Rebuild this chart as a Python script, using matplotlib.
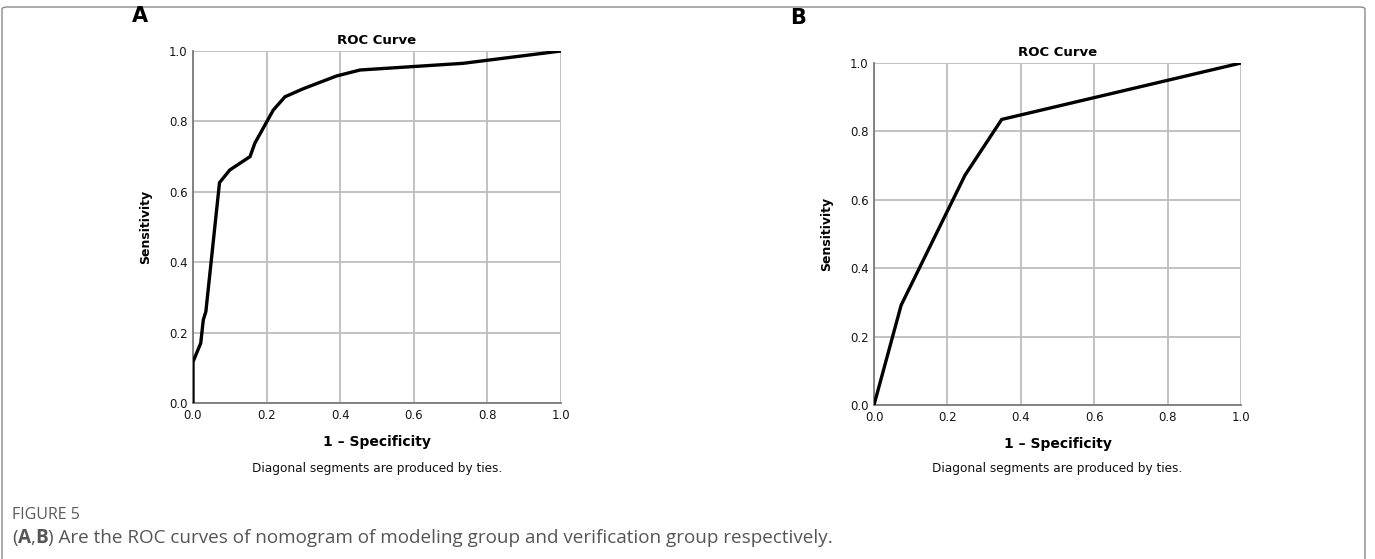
import matplotlib
matplotlib.use('Agg')
import matplotlib.pyplot as plt
from matplotlib.patches import FancyBboxPatch

# ROC points
fpr_a = [0.0, 0.0, 0.021, 0.028, 0.035, 0.072, 0.10, 0.155, 0.168, 0.218, 0.25, 0.30, 0.39, 0.454, 0.734, 1.0]
tpr_a = [0.0, 0.117, 0.170, 0.236, 0.26, 0.626, 0.662, 0.70, 0.738, 0.832, 0.870, 0.893, 0.929, 0.946, 0.965, 1.0]

fpr_b = [0.0, 0.074, 0.248, 0.348, 1.0]
tpr_b = [0.0, 0.292, 0.672, 0.835, 1.0]

ticks = [0.0, 0.2, 0.4, 0.6, 0.8, 1.0]
tick_labels = ['0.0', '0.2', '0.4', '0.6', '0.8', '1.0']

fig = plt.figure(figsize=(13.75, 5.59), dpi=100)

# outer frame
frame = FancyBboxPatch((2/1375, -0.05), 1363/1375, 1 - 7/559 + 0.05,
                       boxstyle='round,pad=0,rounding_size=0.004',
                       transform=fig.transFigure, fill=False,
                       edgecolor='#8a8a8a', linewidth=1.0)
fig.patches.append(frame)


def roc_panel(rect, fpr, tpr, letter, letter_xy):
    ax = fig.add_axes(rect)
    ax.plot(fpr, tpr, color='black', linewidth=2.4, solid_joinstyle='miter', zorder=3)
    ax.set_xlim(0, 1)
    ax.set_ylim(0, 1)
    ax.set_xticks(ticks)
    ax.set_yticks(ticks)
    ax.set_xticklabels(tick_labels)
    ax.set_yticklabels(tick_labels)
    ax.tick_params(length=0, labelsize=8.5, labelcolor='#151515')
    ax.tick_params(axis='x', pad=4)
    ax.tick_params(axis='y', pad=4)
    ax.grid(True, color='#bdbdbd', linewidth=1.3)
    for s in ['top', 'right']:
        ax.spines[s].set_visible(False)
    for s in ['left', 'bottom']:
        ax.spines[s].set_color('#7a7a7a')
        ax.spines[s].set_linewidth(1.3)
    ax.set_title('ROC Curve', fontsize=9.5, fontweight='bold', pad=5)
    ax.set_xlabel('1 \u2013 Specificity', fontsize=10, fontweight='bold', labelpad=10)
    ax.set_ylabel('Sensitivity', fontsize=9, fontweight='bold', labelpad=12)
    ax.text(0.5, -0.185, 'Diagonal segments are produced by ties.', transform=ax.transAxes,
            ha='center', va='center', fontsize=8.7, color='#111111')
    fig.text(letter_xy[0], letter_xy[1], letter, fontsize=15, fontweight='bold',
             ha='left', va='center')
    return ax


roc_panel([193/1375, 1 - 403/559, 368/1375, 352/559], fpr_a, tpr_a, 'A',
          (132/1375, 1 - 16/559))
roc_panel([874/1375, 1 - 405/559, 367/1375, 342/559], fpr_b, tpr_b, 'B',
          (790/1375, 1 - 18/559))

# caption
fig.text(12/1375, 1 - 515/559, 'FIGURE 5', fontsize=11.5, color='#5a5a5a',
         family='Open Sans', va='center', ha='left')

renderer = fig.canvas.get_renderer()
pieces = [('(', 'normal'), ('A', 'bold'), (',', 'normal'), ('B', 'bold'),
          (') Are the ROC curves of nomogram of modeling group and verification group respectively.', 'normal')]
x = 12
for txt, w in pieces:
    t = fig.text(x/1375, 1 - 538/559, txt, fontsize=13.6, color='#555555',
                 family='Open Sans', fontweight=w, va='center', ha='left')
    bb = t.get_window_extent(renderer=renderer)
    x = bb.x1

fig.savefig('out.png', dpi=100)
